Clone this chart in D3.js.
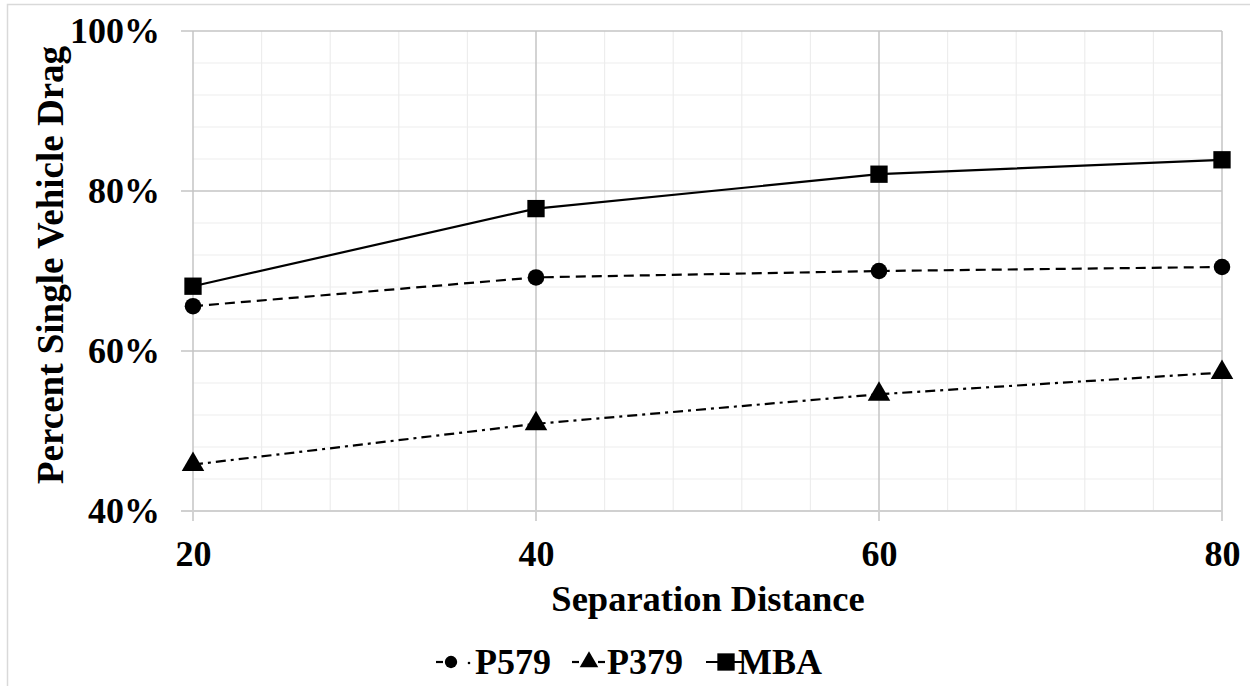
<!DOCTYPE html>
<html><head><meta charset="utf-8">
<script src="https://cdn.jsdelivr.net/npm/d3@7"></script>
<style>body{margin:0;background:#fff}svg{display:block}</style>
</head><body><svg id="c" width="1250" height="686"></svg>
<script>
const distances = [20, 40, 60, 80];
const p579 = [65.6, 69.2, 70.0, 70.5];
const p379 = [45.8, 50.9, 54.6, 57.3];
const mba  = [68.1, 77.8, 82.1, 83.9];
const yTicks = [40, 60, 80, 100];
const xTicks = [20, 40, 60, 80];
const seriesNames = ["P579", "P379", "MBA"];

const FONT = "'Liberation Serif', 'Times New Roman', Times, serif";
const svg = d3.select("#c");
const L = 193, R = 1222, T = 31, B = 511;
const x = d3.scaleLinear().domain([20, 80]).range([L, R]);
const y = d3.scaleLinear().domain([40, 100]).range([B, T]);

svg.append("rect").attr("x", 7.5).attr("y", 4.5).attr("width", 1260).attr("height", 700)
  .attr("fill", "none").attr("stroke", "#d9d9d9").attr("stroke-width", 1.5);

const g = svg.append("g");
d3.range(44, 100, 4).filter(v => v % 20 !== 0).forEach(v => {
  g.append("line").attr("x1", L).attr("x2", R).attr("y1", y(v)).attr("y2", y(v)).attr("stroke", "#ededed").attr("stroke-width", 1.2);
});
d3.range(24, 80, 4).filter(v => v % 20 !== 0).forEach(v => {
  g.append("line").attr("y1", T).attr("y2", B).attr("x1", x(v)).attr("x2", x(v)).attr("stroke", "#ededed").attr("stroke-width", 1.2);
});
yTicks.forEach(v => {
  g.append("line").attr("x1", L - 12).attr("x2", R).attr("y1", y(v)).attr("y2", y(v)).attr("stroke", "#c4c4c4").attr("stroke-width", 1.5);
});
xTicks.forEach(v => {
  g.append("line").attr("y1", T).attr("y2", B + 10).attr("x1", x(v)).attr("x2", x(v)).attr("stroke", "#c4c4c4").attr("stroke-width", 1.5);
});
g.append("line").attr("x1", L - 12).attr("x2", R).attr("y1", B).attr("y2", B).attr("stroke", "#d0d0d0").attr("stroke-width", 2);

function styleText(sel, size) {
  sel.style("font-family", FONT).style("font-weight", "bold").style("font-size", size + "px").attr("fill", "#000");
}
const ya = d3.axisLeft(y).tickValues(yTicks).tickFormat(d => d + "%").tickSize(0).tickPadding(33);
svg.append("g").attr("transform", `translate(${L},0)`).call(ya)
  .call(s => s.select(".domain").remove())
  .selectAll("text").call(styleText, 36).attr("dy", "0.33em");
const xa = d3.axisBottom(x).tickValues(xTicks).tickSize(0).tickPadding(29);
svg.append("g").attr("transform", `translate(0,${B})`).call(xa)
  .call(s => s.select(".domain").remove())
  .selectAll("text").call(styleText, 36).attr("dy", "0.71em");

svg.append("text").attr("x", 708).attr("y", 611).attr("text-anchor", "middle").call(styleText, 36.5).text("Separation Distance");
svg.append("text").attr("transform", "translate(63,265) rotate(-90)").attr("text-anchor", "middle").call(styleText, 37).text("Percent Single Vehicle Drag");

const series = [
  {name: "P579", vals: p579, dash: "10,6", sym: d3.symbolCircle, size: 215, lsize: 120},
  {name: "P379", vals: p379, dash: "10,5,3,5", sym: d3.symbolTriangle, size: 220, lsize: 150},
  {name: "MBA", vals: mba, dash: null, sym: d3.symbolSquare, size: 300, lsize: 300}
];
const line = d3.line().x(d => x(d[0])).y(d => y(d[1]));
series.forEach(s => {
  const pts = distances.map((d, i) => [d, s.vals[i]]);
  svg.append("path").attr("d", line(pts)).attr("fill", "none").attr("stroke", "#000").attr("stroke-width", 2.2)
    .attr("stroke-dasharray", s.dash);
  svg.selectAll(null).data(pts).enter().append("path")
    .attr("d", d3.symbol().type(s.sym).size(s.size))
    .attr("transform", d => `translate(${x(d[0])},${y(d[1])})`).attr("fill", "#000");
});

// legend
const legItems = [
  {segs: [[436, 443]], dot: 469, mx: 451, tx: 475},
  {segs: [[572, 579], [598, 605]], dot: null, mx: 589, tx: 607},
  {segs: [[706, 744]], dot: null, mx: 726, tx: 738}
];
const ly = 662;
series.forEach((s, i) => {
  const it = legItems[i];
  it.segs.forEach(sg => {
    svg.append("line").attr("x1", sg[0]).attr("x2", sg[1]).attr("y1", ly).attr("y2", ly).attr("stroke", "#000").attr("stroke-width", 2.2);
  });
  if (it.dot) svg.append("circle").attr("cx", it.dot).attr("cy", ly + 1).attr("r", 1.3).attr("fill", "#000");
  svg.append("path").attr("d", d3.symbol().type(s.sym).size(s.lsize)).attr("transform", `translate(${it.mx},${ly})`).attr("fill", "#000");
  svg.append("text").attr("x", it.tx).attr("y", ly + 12).call(styleText, 36).text(seriesNames[i]);
});
</script></body></html>
